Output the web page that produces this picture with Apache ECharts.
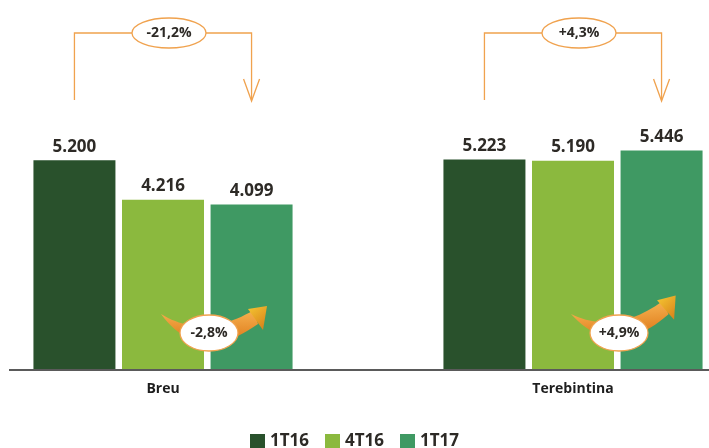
<!DOCTYPE html>
<html>
<head>
<meta charset="utf-8">
<script src="https://cdn.jsdelivr.net/npm/echarts@6/dist/echarts.min.js"></script>
<style>
html, body { margin: 0; padding: 0; background: #fff; }
#chart { width: 709px; height: 448px; }
</style>
</head>
<body>
<div id="chart"></div>
<script>
// data
var categories = ['Breu', 'Terebintina'];
var values1T16 = [5200, 5223];
var values4T16 = [4216, 5190];
var values1T17 = [4099, 5446];
var changeYear = ['-21,2%', '+4,3%'];     // 1T16 -> 1T17
var changeQuarter = ['-2,8%', '+4,9%'];  // 4T16 -> 1T17

var TEXT = '#2d2a26';
var ORANGE = '#f0a24e';
var FONT = 'Open Sans';

function fmt(v) {
	return String(v).replace(/\B(?=(\d{3})+(?!\d))/g, '.');
}

function barSeries(name, data, color) {
	return {
		name: name,
		type: 'bar',
		data: data,
		barWidth: 82,
		barGap: '8%',
		itemStyle: { color: color },
		label: {
			show: true,
			position: 'top',
			distance: 5,
			formatter: function (p) { return fmt(p.value); },
			fontFamily: FONT,
			fontWeight: 'bold',
			fontSize: 17,
			color: TEXT
		}
	};
}

var chart = echarts.init(document.getElementById('chart'), null, { renderer: 'canvas' });

chart.setOption({
	animation: false,
	backgroundColor: '#fff',
	grid: { left: -42, right: -69, top: 52, bottom: 79, outerBoundsMode: 'none', containLabel: false },
	legend: {
		top: 428,
		left: 'center',
		icon: 'rect',
		itemWidth: 15,
		itemHeight: 15,
		itemGap: 16,
		textStyle: { fontFamily: FONT, fontWeight: 'bold', fontSize: 17, color: TEXT },
		data: ['1T16', '4T16', '1T17']
	},
	xAxis: {
		type: 'category',
		data: categories,
		axisLine: { show: false },
		axisTick: { show: false },
		axisLabel: { margin: 13, fontFamily: FONT, fontWeight: 'bold', fontSize: 14, color: '#1e1e1e' }
	},
	yAxis: {
		type: 'value',
		min: 0,
		max: 7900,
		show: false,
		splitLine: { show: false }
	},
	series: [
		barSeries('1T16', values1T16, '#29512c'),
		barSeries('4T16', values4T16, '#8bb93e'),
		barSeries('1T17', values1T17, '#3f9963')
	]
});

// quadratic bezier points for the curved arrow body
function quad(p0, c, p2, n) {
	var pts = [];
	for (var k = 0; k <= n; k++) {
		var t = k / n, a = (1 - t) * (1 - t), b = 2 * t * (1 - t), d = t * t;
		pts.push([a * p0[0] + b * c[0] + d * p2[0], a * p0[1] + b * c[1] + d * p2[1]]);
	}
	return pts;
}

function annotations() {
	var els = [];
	var baseY = chart.convertToPixel({ yAxisIndex: 0 }, 0);
	var step = 82 * 1.08;

	// baseline
	els.push({
		type: 'line', z: 100,
		shape: { x1: 9, y1: baseY + 1, x2: 709, y2: baseY + 1 },
		style: { stroke: '#5a5a5a', lineWidth: 2 }
	});

	categories.forEach(function (c, i) {
		var cx = chart.convertToPixel({ xAxisIndex: 0 }, c);
		var lx = cx - step, rx = cx + step;
		var ty = 33, by = 100;
		var ex = cx + 6;
		var lineStyle = { stroke: ORANGE, lineWidth: 1.3, fill: null };

		// top bracket with arrow
		els.push({ type: 'polyline', z: 100, shape: { points: [[lx, by], [lx, ty], [ex - 37, ty]] }, style: lineStyle });
		els.push({ type: 'polyline', z: 100, shape: { points: [[ex + 37, ty], [rx, ty], [rx, by]] }, style: lineStyle });
		els.push({ type: 'polyline', z: 100, shape: { points: [[rx - 8, by - 21], [rx, by + 1], [rx + 8, by - 21]] }, style: lineStyle });
		els.push({
			type: 'ellipse', z: 100,
			shape: { cx: ex, cy: ty, rx: 37, ry: 15 },
			style: { fill: '#fff', stroke: ORANGE, lineWidth: 1.3 }
		});
		els.push({
			type: 'text', z: 101, x: ex, y: ty,
			style: { text: changeYear[i], align: 'center', verticalAlign: 'middle',
				font: 'bold 14px "Open Sans"', fill: TEXT }
		});

		// bottom curved arrow
		var outer = quad([0, 0], [38, 52], [97, 10], 24);
		var inner = quad([93, -4], [42, 26], [0, 0], 24);
		els.push({
			type: 'group', z: 100,
			x: cx - 2, y: 314,
			rotation: i === 0 ? 0 : 0.1,
			children: [
				{
					type: 'polygon', z: 100,
					shape: { points: outer.concat(inner) },
					style: {
						fill: new echarts.graphic.LinearGradient(0, 0, 0, 1, [
							{ offset: 0, color: '#f7b250' },
							{ offset: 1, color: '#dd7818' }
						])
					}
				},
				{
					type: 'polygon', z: 100,
					shape: { points: [[87, -5], [106, -8], [102, 16]] },
					style: {
						fill: new echarts.graphic.LinearGradient(0, 0, 1, 1, [
							{ offset: 0, color: '#f5c632' },
							{ offset: 1, color: '#d57b18' }
						])
					}
				}
			]
		});
		els.push({
			type: 'ellipse', z: 101,
			shape: { cx: cx + 46, cy: 333, rx: 29, ry: 18 },
			style: { fill: '#fff', stroke: ORANGE, lineWidth: 1.3 }
		});
		els.push({
			type: 'text', z: 102, x: cx + 46, y: 333,
			style: { text: changeQuarter[i], align: 'center', verticalAlign: 'middle',
				font: 'bold 14px "Open Sans"', fill: TEXT }
		});
	});
	return els;
}

chart.setOption({ graphic: { elements: annotations() } });
</script>
</body>
</html>
